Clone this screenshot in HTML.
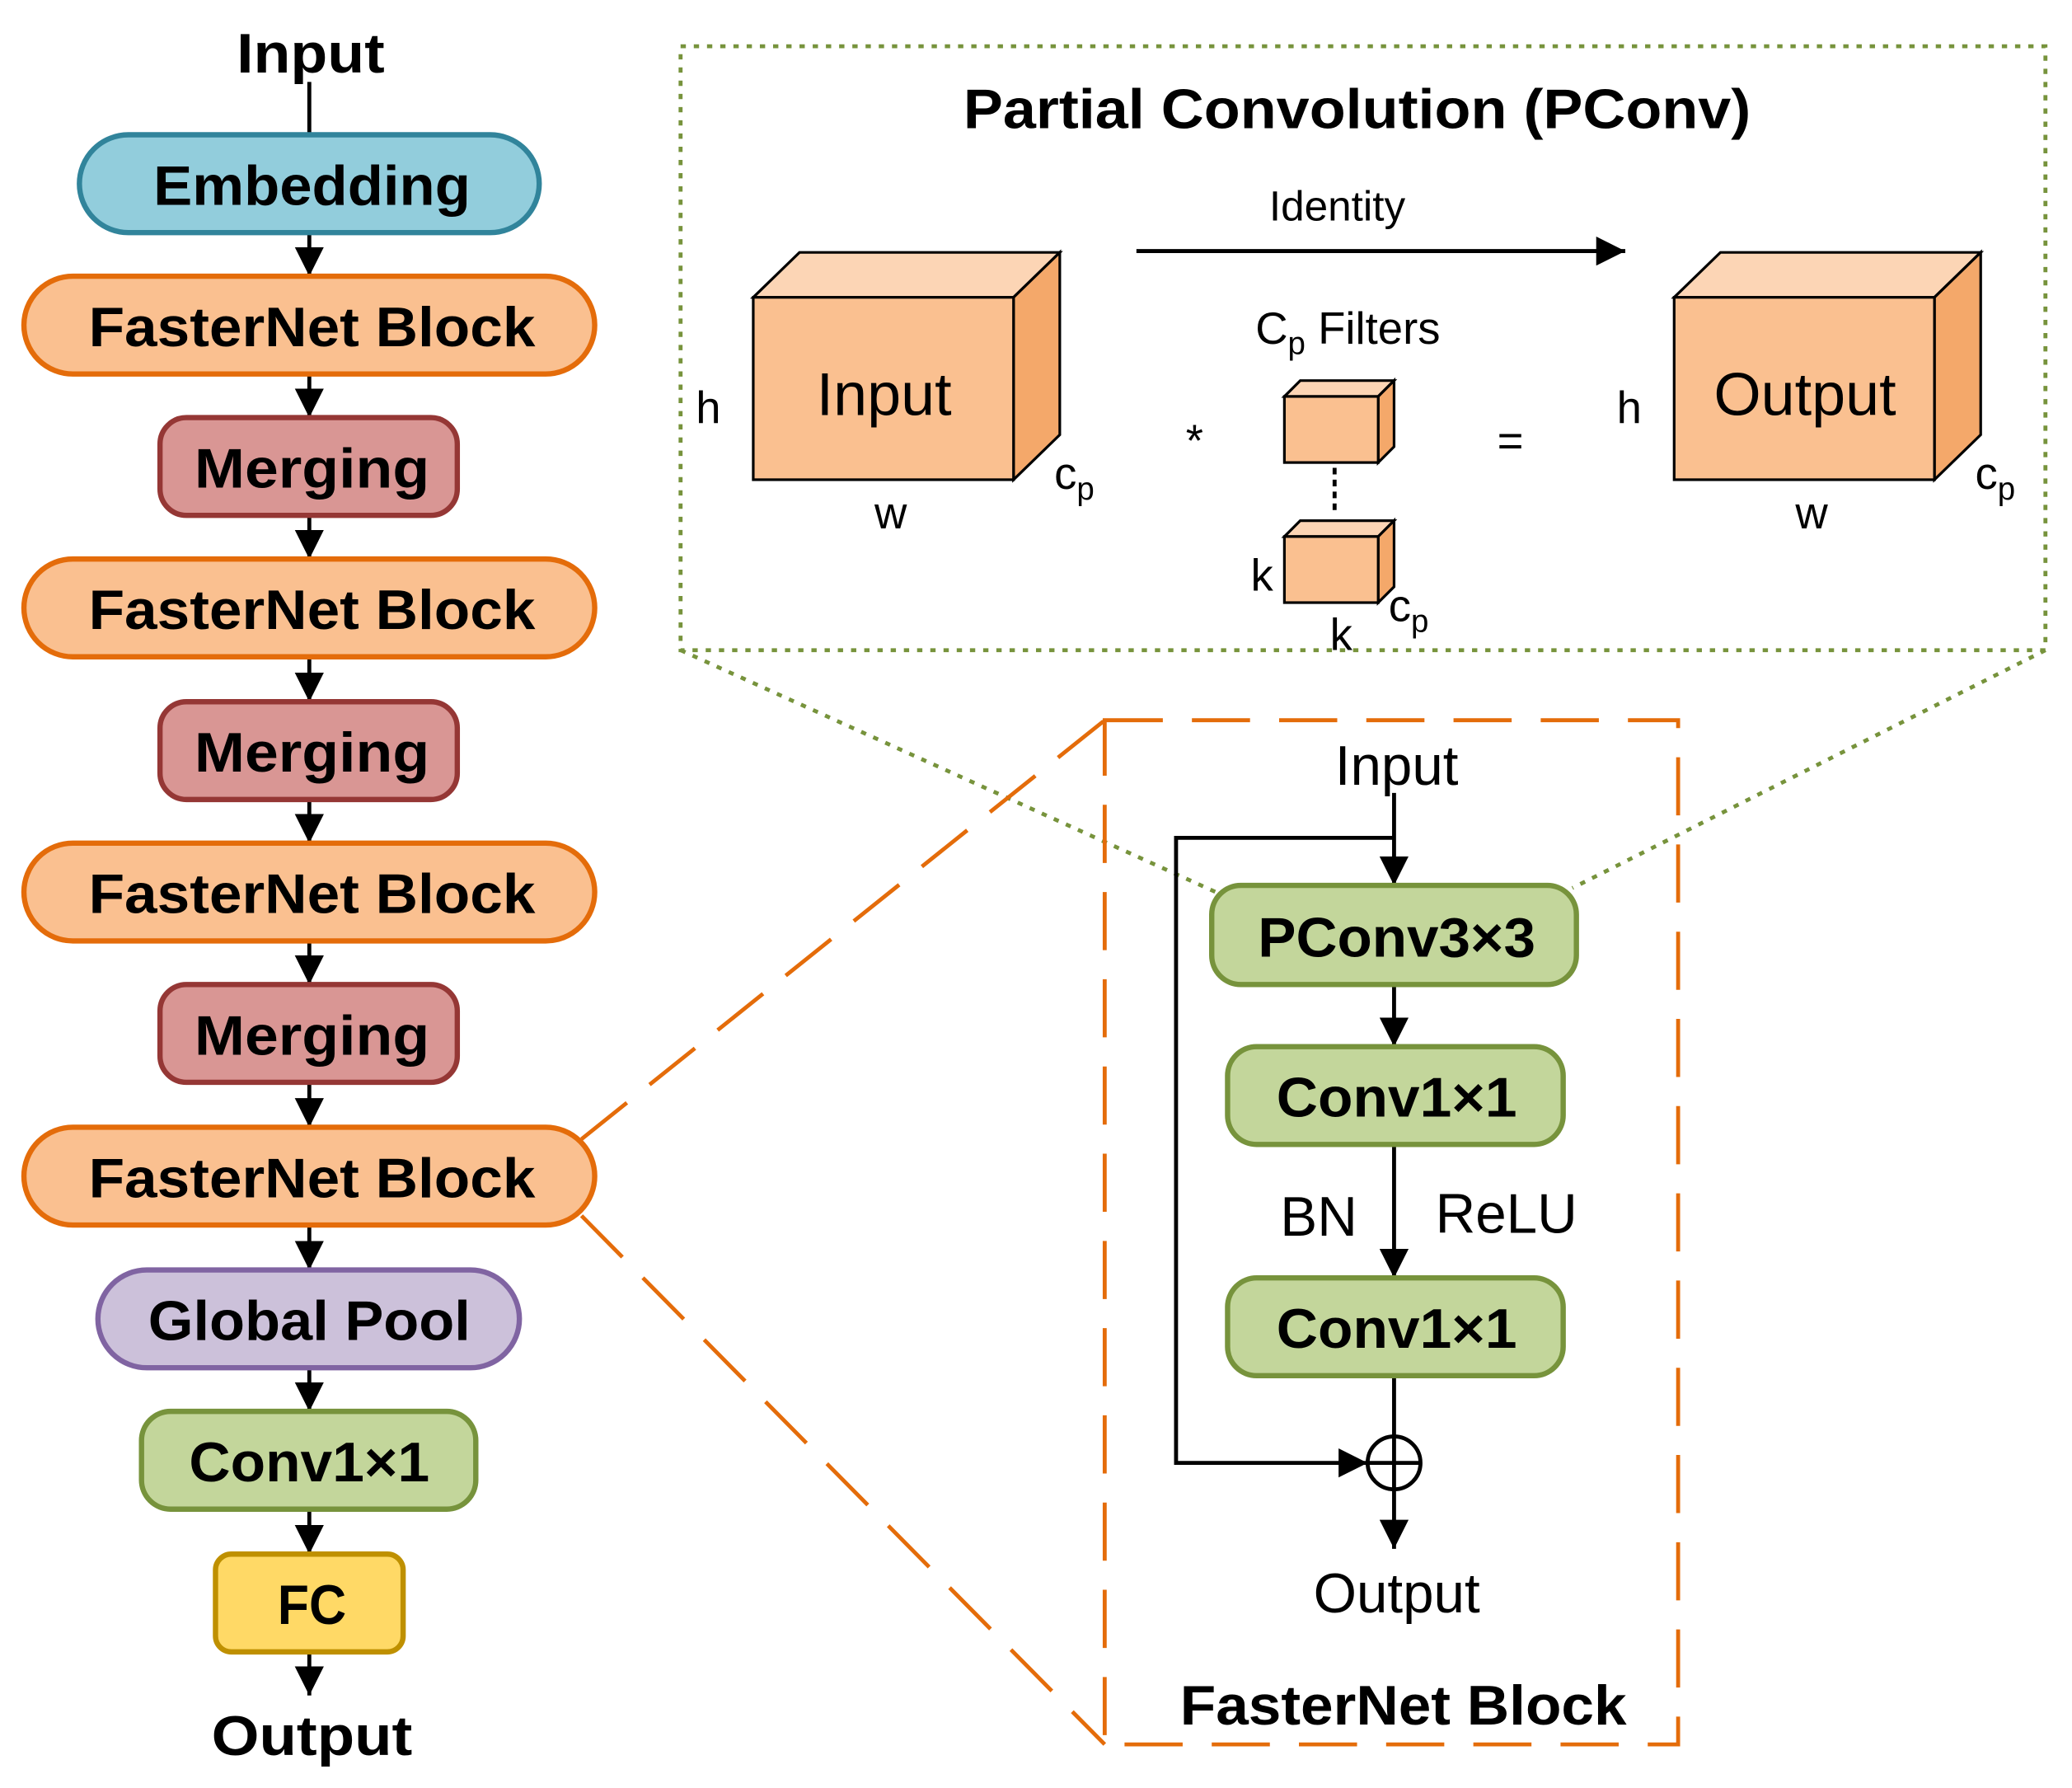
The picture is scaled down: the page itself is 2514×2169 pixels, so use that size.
<!DOCTYPE html>
<html><head><meta charset="utf-8"><style>html,body{margin:0;padding:0;background:#fff}svg{display:block}</style></head>
<body>
<svg width="2514" height="2169" viewBox="0 0 1568 1353" xmlns="http://www.w3.org/2000/svg" font-family="Liberation Sans, sans-serif">
<defs>
<marker id="b" viewBox="0 0 10 10" refX="10" refY="5" markerWidth="22" markerHeight="22" markerUnits="userSpaceOnUse" orient="auto"><path d="M0,0 L10,5 L0,10z" fill="#000"/></marker>
</defs>
<g stroke="#000" stroke-width="3" marker-end="url(#b)">
<line x1="234" y1="62" x2="234" y2="102" marker-end="none"/>
<line x1="234" y1="176" x2="234" y2="209"/>
<line x1="234" y1="283" x2="234" y2="316"/>
<line x1="234" y1="390" x2="234" y2="423"/>
<line x1="234" y1="497" x2="234" y2="531"/>
<line x1="234" y1="605" x2="234" y2="638"/>
<line x1="234" y1="712" x2="234" y2="745"/>
<line x1="234" y1="819" x2="234" y2="853"/>
<line x1="234" y1="927" x2="234" y2="961"/>
<line x1="234" y1="1035" x2="234" y2="1068"/>
<line x1="234" y1="1142" x2="234" y2="1176"/>
<line x1="234" y1="1250" x2="234" y2="1283"/>
</g>
<g stroke-width="4" font-weight="bold" font-size="42" text-anchor="middle">
<rect x="60" y="102" width="348" height="74" rx="37" fill="#92CDDC" stroke="#31849B"/>
<text x="236" y="155" textLength="240" lengthAdjust="spacingAndGlyphs" stroke="none">Embedding</text>
<g fill="#FAC090" stroke="#E46C0A">
<rect x="18" y="209" width="432" height="74" rx="37"/><rect x="18" y="423" width="432" height="74" rx="37"/>
<rect x="18" y="638" width="432" height="74" rx="37"/><rect x="18" y="853" width="432" height="74" rx="37"/></g>
<g fill="#D99694" stroke="#953735">
<rect x="121" y="316" width="225" height="74" rx="20"/><rect x="121" y="531" width="225" height="74" rx="20"/><rect x="121" y="745" width="225" height="74" rx="20"/></g>
<rect x="74" y="961" width="319" height="74" rx="37" fill="#CCC1DA" stroke="#8064A2"/>
<rect x="107" y="1068" width="253" height="74" rx="22" fill="#C3D69B" stroke="#77933C"/>
<rect x="163" y="1176" width="142" height="74" rx="12" fill="#FFD966" stroke="#BF9000"/>
<g stroke="none">
<text x="236" y="262" textLength="338" lengthAdjust="spacingAndGlyphs">FasterNet Block</text>
<text x="236" y="476" textLength="338" lengthAdjust="spacingAndGlyphs">FasterNet Block</text>
<text x="236" y="691" textLength="338" lengthAdjust="spacingAndGlyphs">FasterNet Block</text>
<text x="236" y="906" textLength="338" lengthAdjust="spacingAndGlyphs">FasterNet Block</text>
<text x="236" y="369" textLength="178" lengthAdjust="spacingAndGlyphs">Merging</text>
<text x="236" y="584" textLength="178" lengthAdjust="spacingAndGlyphs">Merging</text>
<text x="236" y="798" textLength="178" lengthAdjust="spacingAndGlyphs">Merging</text>
<text x="234" y="1014" textLength="244" lengthAdjust="spacingAndGlyphs">Global Pool</text>
<text x="234" y="1121" textLength="182" lengthAdjust="spacingAndGlyphs">Conv1×1</text>
<text x="236" y="1229" textLength="52" lengthAdjust="spacingAndGlyphs">FC</text>
<text x="235" y="55" textLength="112" lengthAdjust="spacingAndGlyphs">Input</text>
<text x="236" y="1328" textLength="152" lengthAdjust="spacingAndGlyphs">Output</text>
</g></g>
<rect x="515" y="35" width="1033" height="457" fill="none" stroke="#77933C" stroke-width="3" stroke-dasharray="4,6"/>
<line x1="515" y1="492" x2="920" y2="675" stroke="#77933C" stroke-width="3" stroke-dasharray="4,6"/>
<line x1="1548" y1="492" x2="1190" y2="672" stroke="#77933C" stroke-width="3" stroke-dasharray="4,6"/>
<text x="1027" y="97" font-size="42" font-weight="bold" text-anchor="middle" textLength="596" lengthAdjust="spacingAndGlyphs">Partial Convolution (PConv)</text>
<line x1="860" y1="190" x2="1230" y2="190" stroke="#000" stroke-width="3" marker-end="url(#b)"/>
<text x="1012" y="167" font-size="32" text-anchor="middle">Identity</text>
<g stroke="#000" stroke-width="2">
<polygon points="570,225 605,191 802,191 767,225" fill="#FCD5B5"/>
<polygon points="767,225 802,191 802,329 767,363" fill="#F4A86A"/>
<rect x="570" y="225" width="197" height="138" fill="#FAC090"/>
<polygon points="1267,225 1302,191 1499,191 1464,225" fill="#FCD5B5"/>
<polygon points="1464,225 1499,191 1499,329 1464,363" fill="#F4A86A"/>
<rect x="1267" y="225" width="197" height="138" fill="#FAC090"/>
<polygon points="972,300 984,288 1055,288 1043,300" fill="#FCD5B5"/>
<polygon points="1043,300 1055,288 1055,338 1043,350" fill="#F4A86A"/>
<rect x="972" y="300" width="71" height="50" fill="#FAC090"/>
<polygon points="972,406 984,394 1055,394 1043,406" fill="#FCD5B5"/>
<polygon points="1043,406 1055,394 1055,444 1043,456" fill="#F4A86A"/>
<rect x="972" y="406" width="71" height="50" fill="#FAC090"/>
</g>
<line x1="1010" y1="354" x2="1010" y2="390" stroke="#000" stroke-width="3" stroke-dasharray="5,4"/>
<g font-size="34" text-anchor="middle">
<text x="669" y="314" font-size="46">Input</text>
<text x="1366" y="314" font-size="46">Output</text>
<text x="536" y="320">h</text><text x="1233" y="320">h</text>
<text x="674" y="400">w</text><text x="1371" y="400">w</text>
<text x="813" y="370">c<tspan font-size="24" dy="8">p</tspan></text>
<text x="1510" y="370">c<tspan font-size="24" dy="8">p</tspan></text>
<text x="904" y="345">*</text><text x="1143" y="345">=</text>
<text x="1020" y="260">C<tspan font-size="24" dy="8">p</tspan><tspan dy="-8"> Filters</tspan></text>
<text x="955" y="447">k</text><text x="1015" y="492">k</text>
<text x="1066" y="470">c<tspan font-size="24" dy="8">p</tspan></text>
</g>
<g stroke="#E46C0A" stroke-width="3" stroke-dasharray="44,22" fill="none">
<rect x="836" y="545" width="434" height="775"/>
<line x1="440" y1="862" x2="836" y2="545"/>
<line x1="440" y1="920" x2="836" y2="1320"/>
</g>
<g stroke="#000" stroke-width="3" fill="none">
<line x1="1055" y1="600" x2="1055" y2="670" marker-end="url(#b)"/>
<polyline points="1055,634 890,634 890,1107 1035,1107" marker-end="url(#b)"/>
<line x1="1055" y1="745" x2="1055" y2="792" marker-end="url(#b)"/>
<line x1="1055" y1="866" x2="1055" y2="967" marker-end="url(#b)"/>
<line x1="1055" y1="1041" x2="1055" y2="1087"/>
<line x1="1055" y1="1127" x2="1055" y2="1172" marker-end="url(#b)"/>
<circle cx="1055" cy="1107" r="20"/><line x1="1035" y1="1107" x2="1075" y2="1107"/><line x1="1055" y1="1087" x2="1055" y2="1127"/>
</g>
<g stroke-width="4" fill="#C3D69B" stroke="#77933C">
<rect x="917" y="670" width="276" height="75" rx="22"/>
<rect x="929" y="792" width="254" height="74" rx="22"/>
<rect x="929" y="967" width="254" height="74" rx="22"/>
</g>
<g font-size="42" font-weight="bold" text-anchor="middle">
<text x="1057" y="724" textLength="210" lengthAdjust="spacingAndGlyphs">PConv3×3</text>
<text x="1057" y="845" textLength="182" lengthAdjust="spacingAndGlyphs">Conv1×1</text>
<text x="1057" y="1020" textLength="182" lengthAdjust="spacingAndGlyphs">Conv1×1</text>
<text x="1062" y="1305" textLength="338" lengthAdjust="spacingAndGlyphs">FasterNet Block</text>
</g>
<g font-size="42" text-anchor="middle">
<text x="1057" y="594">Input</text>
<text x="998" y="935">BN</text><text x="1140" y="933">ReLU</text>
<text x="1057" y="1220">Output</text>
</g>
</svg>
</body></html>
